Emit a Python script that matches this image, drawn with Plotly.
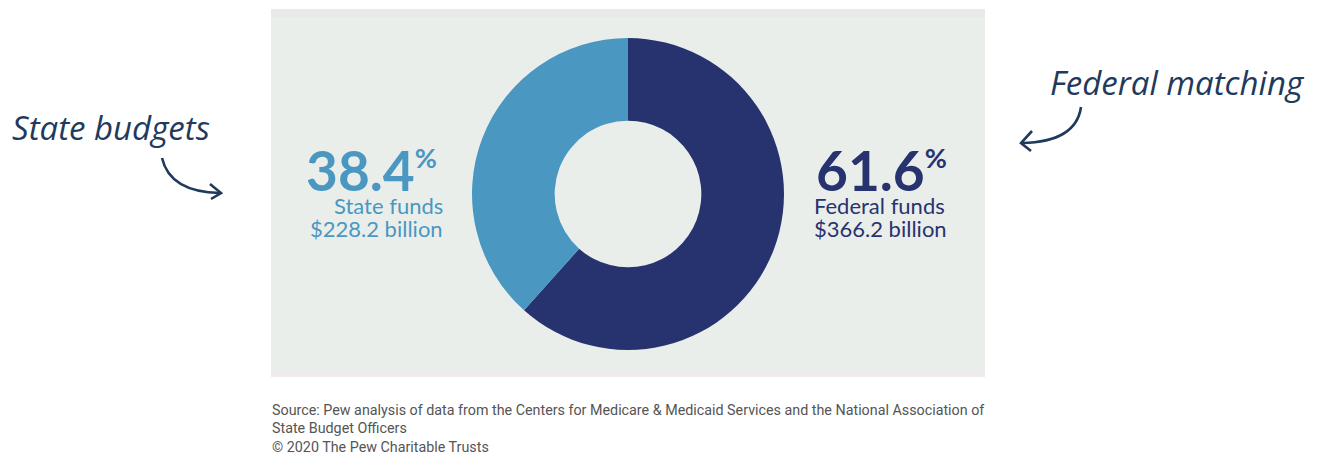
import plotly.graph_objects as go

# Funding sources (billions of dollars)
sources = ["Federal funds", "State funds"]
amounts = [366.2, 228.2]
colors = ["#27336f", "#4a97c2"]

callouts = ["Federal matching", "State budgets"]
source_lines = [
    "Source: Pew analysis of data from the Centers for Medicare & Medicaid Services and the National Association of",
    "State Budget Officers",
]
credit = "© 2020 The Pew Charitable Trusts"

W, H = 1318, 464
total = sum(amounts)
shares = [a / total * 100 for a in amounts]


def px(x):
    return x / W


def py(y):
    return 1 - y / H


# Donut geometry in pixels
cx, cy, r = 628, 194, 156

fig = go.Figure(
    go.Pie(
        labels=sources,
        values=amounts,
        marker=dict(colors=colors, line=dict(width=0)),
        hole=0.47,
        sort=False,
        direction="clockwise",
        rotation=0,
        textinfo="none",
        hoverinfo="label+value+percent",
        domain=dict(x=[px(cx - r), px(cx + r)], y=[py(cy + r), py(cy - r)]),
        showlegend=False,
    )
)

ink = "#1f3a5c"
shapes = [
    # light panel behind the donut
    dict(type="rect", xref="paper", yref="paper", x0=px(271), x1=px(985),
         y0=py(377), y1=py(9), fillcolor="#eaeeea", line=dict(width=0), layer="below"),
    dict(type="rect", xref="paper", yref="paper", x0=px(271), x1=px(985),
         y0=py(17), y1=py(9), fillcolor="#e7eae7", line=dict(width=0), layer="below"),
    dict(type="rect", xref="paper", yref="paper", x0=px(271), x1=px(985),
         y0=py(377), y1=py(371), fillcolor="#edebec", line=dict(width=0), layer="below"),
]


def curve(p0, c, p1):
    return (f"M {px(p0[0])},{py(p0[1])} Q {px(c[0])},{py(c[1])} "
            f"{px(p1[0])},{py(p1[1])}")


def head(b1, tip, b2):
    return (f"M {px(b1[0])},{py(b1[1])} L {px(tip[0])},{py(tip[1])} "
            f"L {px(b2[0])},{py(b2[1])}")


arrow_line = dict(color=ink, width=2.6)
for path in [
    curve((162, 158), (170, 192), (220, 193)),
    head((210, 184), (221, 193), (211, 199)),
    curve((1081, 107), (1076, 142), (1022, 143)),
    head((1032, 131), (1021, 143), (1031, 151)),
]:
    shapes.append(dict(type="path", xref="paper", yref="paper", path=path,
                       line=arrow_line, layer="above"))

annotations = []


def note(text, x, y, xanchor, size, color, family="Lato", weight="normal",
         style="normal", yanchor="middle"):
    annotations.append(dict(
        text=text, x=px(x), y=py(y), xref="paper", yref="paper",
        xanchor=xanchor, yanchor=yanchor, showarrow=False,
        font=dict(size=size, color=color, family=family, weight=weight, style=style),
    ))


def big_pct(value):
    return f"{value:.1f}<sup><span style='font-size:27px'>%</span></sup>"


fed_pct, state_pct = shares

# State side (right-aligned to the left of the donut)
note(big_pct(state_pct), 439, 170, "right", 55, colors[1], weight="bold")
note(sources[1], 445, 205, "right", 22, colors[1])
note(f"${amounts[1]:.1f} billion", 445, 228, "right", 22, colors[1])

# Federal side (left-aligned to the right of the donut)
note(big_pct(fed_pct), 814, 170, "left", 55, colors[0], weight="bold")
note(sources[0], 812, 205, "left", 22, colors[0])
note(f"${amounts[0]:.1f} billion", 812, 228, "left", 22, colors[0])

# Handwritten-style callouts
note(callouts[1], 10, 127, "left", 33, ink, family="Open Sans", style="italic")
note(callouts[0], 1048, 82, "left", 33, ink, family="Open Sans", style="italic")

# Footer
foot = dict(family="Roboto", size=14.3, color="#555555")
note(source_lines[0], 270, 410, "left", foot["size"], foot["color"], family=foot["family"])
note(source_lines[1], 270, 428, "left", foot["size"], foot["color"], family=foot["family"])
note(credit, 270, 447, "left", foot["size"], foot["color"], family=foot["family"])

fig.update_layout(
    width=W, height=H,
    margin=dict(l=0, r=0, t=0, b=0),
    paper_bgcolor="white", plot_bgcolor="white",
    shapes=shapes, annotations=annotations,
)

fig.write_html("out.html")
